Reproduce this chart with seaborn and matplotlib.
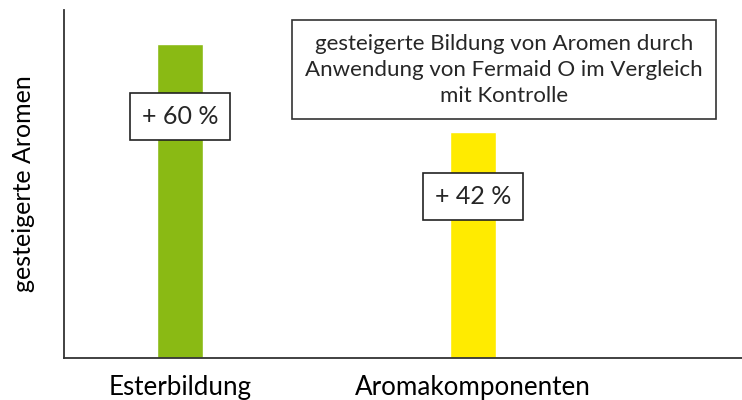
import numpy as np
import pandas as pd
import matplotlib
matplotlib.use('Agg')
import matplotlib.pyplot as plt
import seaborn as sns

# chart data (bar heights, arbitrary units)
categories = ['Esterbildung', 'Aromakomponenten']
values = [100, 72]
labels = ['+ 60 %', '+ 42 %']
labelHeights = [77, 51.5]
colors = ['#8aba14', '#ffeb00']
noteText = 'gesteigerte Bildung von Aromen durch\nAnwendung von Fermaid O im Vergleich\nmit Kontrolle'

sns.set_theme(style='white')
plt.rcParams['font.family'] = ['Lato', 'DejaVu Sans']

df = pd.DataFrame({'Kategorie': categories, 'Wert': values})

fig = plt.figure(figsize=(7.42, 4.0), dpi=100)
ax = fig.add_axes([0.0863, 0.105, 0.9137, 0.87])

sns.barplot(ax=ax, data=df, x='Kategorie', y='Wert', hue='Kategorie',
            palette=colors, width=0.157, legend=False, saturation=1)

ax.set_xlim(-0.396, 1.918)
ax.set_ylim(0, 111)
ax.set_yticks([])
ax.tick_params(axis='x', length=0, pad=12, labelsize=18.7, colors='black')
ax.set_xlabel('')
ax.set_ylabel('gesteigerte Aromen', fontsize=18, labelpad=21, color='black')

for side in ['top', 'right']:
    ax.spines[side].set_visible(False)
for side in ['left', 'bottom']:
    ax.spines[side].set_color('#333333')
    ax.spines[side].set_linewidth(1.3)

# percentage boxes on the bars
for i, (lab, yPos) in enumerate(zip(labels, labelHeights)):
    ax.text(i, yPos, lab, ha='center', va='center', fontsize=18,
            bbox=dict(boxstyle='square,pad=0.47', facecolor='white',
                      edgecolor='#222222', linewidth=1.2))

# explanation box
ax.text(1.106, 91.9, noteText, ha='center', va='center', fontsize=16,
        linespacing=1.38,
        bbox=dict(boxstyle='square,pad=0.6', facecolor='white',
                  edgecolor='#333333', linewidth=1.2))

fig.savefig('out.png', dpi=100)
